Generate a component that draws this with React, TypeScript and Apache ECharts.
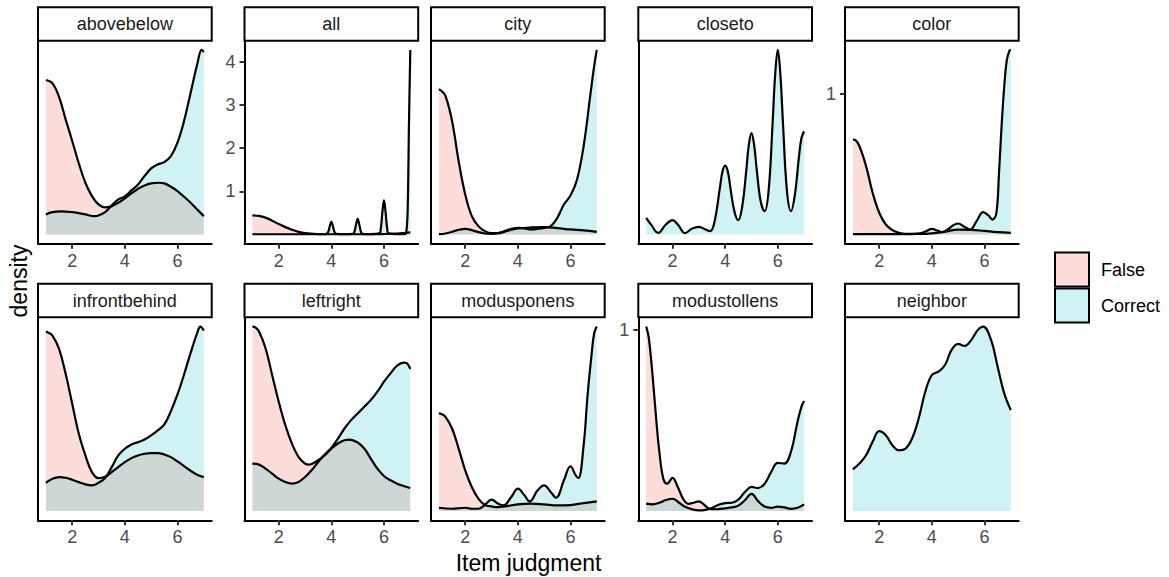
import React, { useEffect, useRef } from "react";
import * as echarts from "echarts";

type Pt = [number, number];

// ---------- data (density estimates) ----------
const facetNames = [
  "abovebelow", "all", "city", "closeto", "color",
  "infrontbehind", "leftright", "modusponens", "modustollens", "neighbor",
];
const groupNames = ["False", "Correct"];
const xTicks = [2, 4, 6];

const abovebelowFalse: Pt[] = [[1,.463],[1.25,.453],[1.5,.412],[1.75,.345],[2,.28],[2.25,.213],[2.5,.155],[2.75,.115],[3,.09],[3.25,.081],[3.5,.085],[3.75,.095],[4,.108],[4.25,.123],[4.5,.137],[4.75,.147],[5,.153],[5.3,.155],[5.5,.153],[5.75,.143],[6,.13],[6.25,.113],[6.5,.095],[6.75,.075],[7,.055]];
const abovebelowCorrect: Pt[] = [[1,.06],[1.25,.067],[1.6,.069],[2,.067],[2.25,.064],[2.5,.06],[2.85,.055],[3,.057],[3.25,.067],[3.5,.087],[3.75,.105],[4,.114],[4.25,.132],[4.5,.15],[4.75,.175],[5,.198],[5.25,.21],[5.5,.217],[5.75,.235],[6,.275],[6.25,.34],[6.5,.425],[6.75,.51],[6.92,.553],[7,.547]];

const allFalse: Pt[] = [[1,.44],[1.25,.43],[1.5,.39],[1.75,.32],[2,.24],[2.25,.17],[2.5,.11],[2.75,.06],[3,.03],[3.5,.01],[4,.005],[5,.005],[6,.01],[6.5,.02],[7,.05]];
const allCorrect: Pt[] = [[1,.005],[3.7,.005],[3.82,.015],[3.88,.06],[3.94,.19],[4,.29],[4.06,.19],[4.12,.06],[4.18,.015],[4.5,.01],[4.82,.015],[4.88,.07],[4.94,.235],[5,.36],[5.06,.235],[5.12,.07],[5.18,.015],[5.5,.01],[5.82,.025],[5.88,.145],[5.94,.52],[6,.79],[6.06,.52],[6.12,.145],[6.18,.025],[6.5,.01],[6.8,.01],[6.85,.06],[6.9,.58],[6.95,2.6],[7,4.27]];

const cityFalse: Pt[] = [[1,.435],[1.1,.43],[1.25,.415],[1.5,.34],[1.75,.22],[2,.12],[2.25,.055],[2.5,.025],[2.75,.01],[3,.004],[3.25,.004],[3.5,.008],[3.75,.014],[4,.018],[4.5,.021],[5,.022],[5.5,.019],[6,.015],[6.5,.012],[7,.008]];
const cityCorrect: Pt[] = [[1,.001],[1.25,.003],[1.5,.008],[1.75,.014],[2,.017],[2.25,.013],[2.5,.007],[2.75,.003],[3,.002],[3.25,.004],[3.5,.01],[3.75,.017],[4,.02],[4.25,.018],[4.5,.015],[4.75,.017],[5,.02],[5.25,.025],[5.5,.05],[5.75,.09],[6,.117],[6.25,.165],[6.5,.265],[6.75,.415],[6.9,.505],[7,.553]];

const closetoCorrect: Pt[] = [[1,.05],[1.2,.028],[1.45,.005],[1.75,.03],[2,.043],[2.2,.03],[2.47,.004],[2.75,.018],[3,.023],[3.2,.017],[3.43,.01],[3.6,.04],[3.8,.14],[3.9,.19],[4,.207],[4.1,.19],[4.2,.14],[4.35,.07],[4.5,.043],[4.65,.085],[4.8,.19],[4.9,.27],[5,.305],[5.1,.27],[5.2,.195],[5.35,.1],[5.5,.07],[5.65,.13],[5.8,.33],[5.9,.48],[6,.555],[6.1,.48],[6.2,.33],[6.35,.13],[6.5,.07],[6.65,.12],[6.8,.23],[6.9,.29],[7,.31]];

const colorFalse: Pt[] = [[1,.674],[1.1,.67],[1.25,.626],[1.5,.485],[1.75,.296],[2,.154],[2.25,.071],[2.5,.031],[2.75,.012],[3,.005],[3.5,.004],[4,.008],[4.5,.02],[5,.035],[5.5,.033],[6,.025],[6.5,.017],[7,.012]];
const colorCorrect: Pt[] = [[1,.002],[2.5,.002],[3.2,.003],[3.6,.01],[3.8,.025],[4,.04],[4.2,.028],[4.4,.017],[4.6,.035],[4.8,.064],[5,.078],[5.2,.059],[5.45,.035],[5.7,.095],[5.95,.158],[6.15,.135],[6.3,.106],[6.45,.15],[6.55,.43],[6.65,.77],[6.75,1.05],[6.85,1.24],[6.95,1.305],[7,1.31]];

const infrontbehindFalse: Pt[] = [[1,.539],[1.1,.535],[1.25,.527],[1.5,.487],[1.75,.412],[2,.322],[2.25,.232],[2.5,.167],[2.75,.117],[3,.099],[3.25,.103],[3.5,.117],[3.75,.132],[4,.147],[4.25,.159],[4.5,.167],[4.75,.172],[5,.174],[5.25,.174],[5.5,.17],[5.75,.162],[6,.149],[6.25,.135],[6.5,.121],[6.75,.109],[7,.102]];
const infrontbehindCorrect: Pt[] = [[1,.085],[1.25,.097],[1.5,.102],[1.75,.1],[2,.094],[2.25,.087],[2.5,.08],[2.75,.077],[3,.085],[3.25,.099],[3.5,.132],[3.75,.167],[4,.187],[4.25,.2],[4.5,.207],[4.75,.215],[5,.227],[5.25,.242],[5.5,.26],[5.75,.3],[6,.35],[6.25,.41],[6.5,.475],[6.75,.535],[6.87,.554],[7,.542]];

const leftrightFalse: Pt[] = [[1,.552],[1.1,.55],[1.25,.537],[1.5,.487],[1.75,.407],[2,.327],[2.25,.257],[2.5,.202],[2.75,.162],[3,.142],[3.15,.139],[3.25,.141],[3.5,.152],[3.75,.167],[4,.187],[4.25,.202],[4.5,.212],[4.7,.214],[5,.205],[5.25,.187],[5.5,.157],[5.75,.127],[6,.105],[6.25,.092],[6.5,.082],[6.75,.075],[7,.069]];
const leftrightCorrect: Pt[] = [[1,.142],[1.25,.139],[1.5,.127],[1.75,.112],[2,.097],[2.25,.087],[2.5,.082],[2.75,.087],[3,.102],[3.25,.122],[3.5,.147],[3.75,.169],[4,.189],[4.25,.217],[4.5,.247],[4.75,.272],[5,.292],[5.25,.312],[5.5,.332],[5.75,.357],[6,.387],[6.25,.412],[6.5,.435],[6.75,.444],[6.85,.443],[7,.425]];

const modusponensFalse: Pt[] = [[1,.292],[1.1,.29],[1.25,.282],[1.5,.247],[1.75,.187],[2,.122],[2.25,.072],[2.5,.037],[2.75,.018],[3,.014],[3.25,.012],[3.5,.014],[4,.02],[4.5,.022],[5,.02],[5.5,.017],[6,.018],[6.5,.024],[7,.029]];
const modusponensCorrect: Pt[] = [[1,.01],[1.5,.007],[2,.01],[2.25,.007],[2.5,.007],[2.75,.019],[3,.034],[3.25,.022],[3.45,.017],[3.75,.042],[4,.067],[4.25,.047],[4.45,.029],[4.75,.062],[5,.077],[5.25,.057],[5.45,.04],[5.75,.092],[6,.134],[6.2,.107],[6.3,.099],[6.5,.197],[6.65,.347],[6.8,.467],[6.9,.532],[7,.552]];

const modustollensFalse: Pt[] = [[1,1.018],[1.1,.954],[1.25,.733],[1.4,.474],[1.5,.327],[1.65,.179],[1.8,.151],[2,.183],[2.2,.133],[2.4,.068],[2.6,.04],[2.8,.046],[3,.054],[3.2,.035],[3.4,.013],[3.6,.01],[3.8,.012],[4,.015],[4.25,.02],[4.5,.03],[4.75,.06],[5,.095],[5.25,.055],[5.5,.025],[5.75,.018],[6,.025],[6.25,.02],[6.5,.012],[6.75,.018],[7,.037]];
const modustollensCorrect: Pt[] = [[1,.041],[1.25,.037],[1.5,.046],[1.75,.061],[2,.068],[2.25,.046],[2.5,.022],[2.75,.009],[3,.004],[3.25,.007],[3.5,.017],[3.75,.035],[4,.044],[4.25,.046],[4.5,.063],[4.75,.105],[5,.133],[5.25,.127],[5.5,.151],[5.75,.216],[6,.266],[6.25,.262],[6.5,.327],[6.75,.493],[6.9,.576],[7,.607]];

const neighborCorrect: Pt[] = [[1,.125],[1.25,.142],[1.5,.167],[1.75,.207],[2,.239],[2.25,.227],[2.5,.197],[2.75,.182],[3,.187],[3.25,.217],[3.5,.277],[3.75,.357],[4,.407],[4.25,.417],[4.5,.437],[4.75,.482],[5,.5],[5.25,.494],[5.5,.512],[5.75,.542],[5.95,.552],[6.25,.512],[6.5,.432],[6.75,.352],[7,.302]];

const yTicksAll = [1, 2, 3, 4];
const yTicksColor = [1];
const yTicksModustollens = [1];
const yTicksNone: number[] = [];

const facetFalse: (Pt[] | null)[] = [abovebelowFalse, allFalse, cityFalse, null, colorFalse, infrontbehindFalse, leftrightFalse, modusponensFalse, modustollensFalse, null];
const facetCorrect: Pt[][] = [abovebelowCorrect, allCorrect, cityCorrect, closetoCorrect, colorCorrect, infrontbehindCorrect, leftrightCorrect, modusponensCorrect, modustollensCorrect, neighborCorrect];
const facetYTicks: number[][] = [yTicksNone, yTicksAll, yTicksNone, yTicksNone, yTicksColor, yTicksNone, yTicksNone, yTicksNone, yTicksModustollens, yTicksNone];

// ---------- layout / style ----------
const FONT = "Liberation Sans, Arial, Helvetica, sans-serif";
const colLeft = [38, 244.5, 431, 638.3, 845];
const panelW = 173.7;
const rowTop = [40.7, 317.3];
const panelH = 203;
const stripH = 33.5;
const FILL_FALSE = "rgba(248,118,109,0.25)";
const FILL_CORRECT = "rgba(0,191,196,0.19)";

export default function App() {
  const ref = useRef<HTMLDivElement>(null);
  useEffect(() => {
    if (!ref.current) return;
    const chart = echarts.init(ref.current, null, { renderer: "svg" });
    const grids: any[] = [];
    const xAxes: any[] = [];
    const yAxes: any[] = [];
    const series: any[] = [];
    const graphics: any[] = [];

    facetNames.forEach((name, i) => {
      const col = i % 5;
      const row = Math.floor(i / 5);
      const left = colLeft[col];
      const top = rowTop[row];
      grids.push({ left, top, width: panelW, height: panelH, containLabel: false });
      const fd = facetFalse[i];
      const cd = facetCorrect[i];
      let m = 0;
      (fd || []).forEach((p) => (m = Math.max(m, p[1])));
      cd.forEach((p) => (m = Math.max(m, p[1])));
      xAxes.push({
        gridIndex: i, type: "value", min: 0.7, max: 7.3,
        axisLine: { show: true, onZero: false, lineStyle: { color: "#000", width: 2 } },
        axisTick: { show: true, customValues: xTicks, length: 5, lineStyle: { color: "#333", width: 2 } },
        axisLabel: { show: true, customValues: xTicks, color: "#4D4D4D", fontSize: 18, fontFamily: FONT, margin: 8 },
        splitLine: { show: false },
      });
      const yt = facetYTicks[i];
      yAxes.push({
        gridIndex: i, type: "value", min: -0.05 * m, max: 1.05 * m,
        axisLine: { show: true, onZero: false, lineStyle: { color: "#000", width: 2 } },
        axisTick: { show: yt.length > 0, customValues: yt, length: 5, lineStyle: { color: "#333", width: 2 } },
        axisLabel: { show: yt.length > 0, customValues: yt, color: "#4D4D4D", fontSize: 18, fontFamily: FONT, margin: 9 },
        splitLine: { show: false },
      });
      const mk = (data: Pt[], fill: string, g: string) => ({
        type: "line", name: g, xAxisIndex: i, yAxisIndex: i, data,
        smooth: 0.4, symbol: "none", showSymbol: false, silent: true,
        lineStyle: { color: "#000", width: 2.2 },
        areaStyle: { color: fill, opacity: 1 },
      });
      if (fd) series.push(mk(fd, FILL_FALSE, groupNames[0]));
      series.push(mk(cd, FILL_CORRECT, groupNames[1]));

      const sy = top - stripH;
      graphics.push({
        type: "rect", shape: { x: left, y: sy, width: panelW, height: stripH },
        style: { fill: "#fff", stroke: "#000", lineWidth: 2 },
      });
      graphics.push({
        type: "text", x: left + panelW / 2, y: sy + stripH / 2,
        style: { text: name, fill: "#1A1A1A", fontSize: 18, fontFamily: FONT, align: "center", verticalAlign: "middle", textAlign: "center", textVerticalAlign: "middle" },
      });
    });

    // legend
    const legendFills = [FILL_FALSE, FILL_CORRECT];
    groupNames.forEach((g, k) => {
      const y = 252.5 + k * 36;
      graphics.push({ type: "rect", shape: { x: 1055, y, width: 34, height: 34 }, style: { fill: legendFills[k], stroke: "#000", lineWidth: 2 } });
      graphics.push({ type: "text", x: 1101, y: y + 17.5, style: { text: g, fill: "#000", fontSize: 18, fontFamily: FONT, align: "left", verticalAlign: "middle", textAlign: "left", textVerticalAlign: "middle" } });
    });
    // axis titles
    graphics.push({ type: "text", x: 528.5, y: 563, style: { text: "Item judgment", fill: "#000", fontSize: 23, fontFamily: FONT, align: "center", verticalAlign: "middle", textAlign: "center", textVerticalAlign: "middle" } });
    graphics.push({ type: "text", x: 19, y: 281, rotation: Math.PI / 2, style: { text: "density", fill: "#000", fontSize: 23, fontFamily: FONT, align: "center", verticalAlign: "middle", textAlign: "center", textVerticalAlign: "middle" } });

    chart.setOption({
      animation: false,
      backgroundColor: "#fff",
      grid: grids,
      xAxis: xAxes,
      yAxis: yAxes,
      series,
      graphic: { elements: graphics },
    });
    return () => chart.dispose();
  }, []);
  return <div ref={ref} style={{ position: "absolute", left: 0, top: 0, width: 1169, height: 577 }} />;
}
